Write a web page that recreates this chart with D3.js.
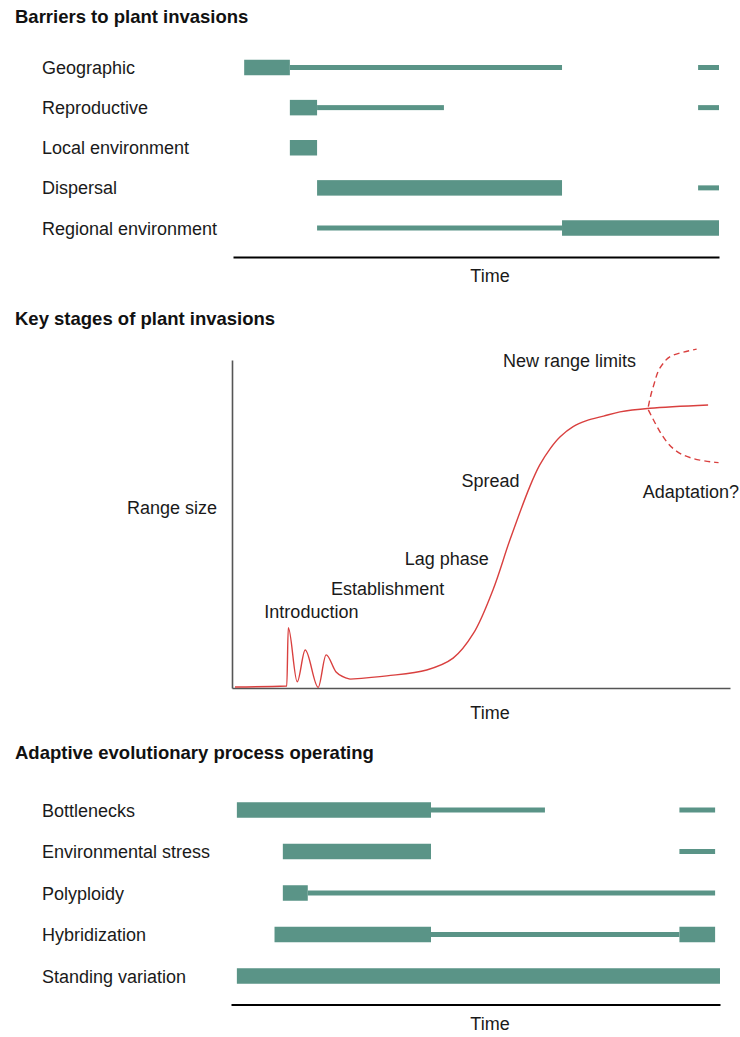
<!DOCTYPE html>
<html>
<head>
<meta charset="utf-8">
<script src="https://cdn.jsdelivr.net/npm/d3@7"></script>
<style>
  html, body { margin: 0; padding: 0; background: #fff; }
  svg { display: block; }
  text { font-family: "Liberation Sans", Arial, Helvetica, sans-serif; fill: #1a1a1a; }
</style>
</head>
<body>
<svg id="chart" width="740" height="1037"></svg>
<script>
// ---------- DATA ----------
const panelTitles = ["Barriers to plant invasions", "Key stages of plant invasions", "Adaptive evolutionary process operating"];
const axisLabel = "Time";
const yLabel = "Range size";

// Panel 1: barriers (time units 0-100)
const barrierCategories = ["Geographic", "Reproductive", "Local environment", "Dispersal", "Regional environment"];
const barrierStrong = [
  ["Geographic", 2.3, 11.7],
  ["Reproductive", 11.7, 17.3],
  ["Local environment", 11.7, 17.3],
  ["Dispersal", 17.3, 67.7],
  ["Regional environment", 67.7, 100]
];
const barrierWeak = [
  ["Geographic", 11.7, 67.7],
  ["Geographic", 95.7, 100],
  ["Reproductive", 17.3, 43.4],
  ["Reproductive", 95.7, 100],
  ["Dispersal", 95.7, 100],
  ["Regional environment", 17.3, 67.7]
];

// Panel 2: range size curve (time 0-100, range size 0-100)
// introduction oscillations
const introTime  = [0.6, 11.0, 11.3, 13.1, 14.7, 17.3, 18.9, 20.9, 23.7];
const introRange = [0.3, 0.6, 18.4, 1.9, 11.6, 0.2, 10.1, 4.9, 2.7];
// lag, spread and saturation
const growthTime  = [23.7, 31.1, 39.1, 44.4, 48.5, 52.4, 55.8, 59.8, 61.8, 63.9, 65.9, 68.5, 71.2, 74.6, 77.9, 83.9, 95.6];
const growthRange = [2.7, 3.7, 5.5, 9.1, 16.7, 29.9, 45.1, 61.4, 68.0, 73.0, 76.6, 79.7, 81.5, 82.9, 84.2, 85.3, 86.3];
const upperTime  = [83.6, 84.6, 86.6, 88.6, 93.3];
const upperRange = [85.8, 91.9, 99.0, 101.5, 103.3];
const lowerTime  = [83.6, 85.3, 87.3, 90.0, 94.0, 97.7];
const lowerRange = [84.8, 79.7, 74.6, 71.0, 69.3, 68.7];
const stageNames = ["New range limits", "Spread", "Lag phase", "Establishment", "Introduction", "Adaptation?"];
const stageTime  = [54.4, 46.1, 34.7, 19.9, 6.5, 82.5];
const stageRange = [98.0, 61.4, 37.5, 28.4, 21.3, 57.8];

// Panel 3: adaptive processes
const processCategories = ["Bottlenecks", "Environmental stress", "Polyploidy", "Hybridization", "Standing variation"];
const processStrong = [
  ["Bottlenecks", 1.2, 40.9],
  ["Environmental stress", 10.6, 40.9],
  ["Polyploidy", 10.6, 15.7],
  ["Hybridization", 8.9, 40.9],
  ["Hybridization", 91.7, 99.0],
  ["Standing variation", 1.2, 100]
];
const processWeak = [
  ["Bottlenecks", 40.9, 64.2],
  ["Bottlenecks", 91.7, 99.0],
  ["Environmental stress", 91.7, 99.0],
  ["Polyploidy", 15.7, 99.0],
  ["Hybridization", 40.9, 91.7]
];

// ---------- STYLE ----------
const barColor = "#5a9487";
const curveColor = "#d9403f";
const strongH = 15.5, weakH = 5;
const fontSize = 18;

const svg = d3.select("#chart");

// Titles
const titleY = [23, 325, 759];
svg.selectAll("text.title").data(panelTitles).join("text")
  .attr("class", "title")
  .attr("x", 15).attr("y", (d, i) => titleY[i])
  .attr("font-size", 18.5).attr("font-weight", "bold")
  .style("fill", "#111")
  .text(d => d);

// Gantt-like panel
function drawBars(cats, strong, weak, xRange, yRange, axisY, timeY) {
  const g = svg.append("g");
  const x = d3.scaleLinear().domain([0, 100]).range(xRange);
  const y = d3.scalePoint().domain(cats).range(yRange);

  g.selectAll("text.cat").data(cats).join("text")
    .attr("class", "cat")
    .attr("x", 42).attr("y", d => y(d) + 6.5)
    .attr("font-size", fontSize)
    .text(d => d);

  g.selectAll("rect.weak").data(weak).join("rect")
    .attr("class", "weak")
    .attr("x", d => x(d[1])).attr("width", d => x(d[2]) - x(d[1]))
    .attr("y", d => y(d[0]) - weakH / 2).attr("height", weakH)
    .attr("fill", barColor);

  g.selectAll("rect.strong").data(strong).join("rect")
    .attr("class", "strong")
    .attr("x", d => x(d[1])).attr("width", d => x(d[2]) - x(d[1]))
    .attr("y", d => y(d[0]) - strongH / 2).attr("height", strongH)
    .attr("fill", barColor);

  const ax = g.append("g")
    .attr("transform", `translate(0,${axisY})`)
    .call(d3.axisBottom(x).tickValues([]).tickSizeOuter(0));
  ax.select(".domain").attr("stroke", "#000").attr("stroke-width", 2.2);

  g.append("text")
    .attr("x", 490).attr("y", timeY)
    .attr("text-anchor", "middle").attr("font-size", fontSize)
    .text(axisLabel);
}

drawBars(barrierCategories, barrierStrong, barrierWeak, [233, 719], [67.5, 228], 257, 282);
drawBars(processCategories, processStrong, processWeak, [231, 720], [810, 976], 1004.5, 1030);

// Curve panel
(function () {
  const g = svg.append("g");
  const x = d3.scaleLinear().domain([0, 100]).range([232, 730]);
  const y = d3.scaleLinear().domain([0, 100]).range([688, 360]);

  const xa = g.append("g").attr("transform", "translate(0,688)")
    .call(d3.axisBottom(x).tickValues([]).tickSizeOuter(0));
  xa.select(".domain").attr("stroke", "#555").attr("stroke-width", 1.6);
  const ya = g.append("g").attr("transform", "translate(232,0)")
    .call(d3.axisLeft(y).tickValues([]).tickSizeOuter(0));
  ya.select(".domain").attr("stroke", "#555").attr("stroke-width", 1.6);

  const mk = c => d3.line().x(d => x(d[0])).y(d => y(d[1])).curve(c);
  const stroke = sel => sel.attr("fill", "none").attr("stroke", curveColor).attr("stroke-width", 1.4);

  g.append("path").attr("d", mk(d3.curveMonotoneX)(d3.zip(introTime, introRange))).call(stroke);
  g.append("path").attr("d", mk(d3.curveCatmullRom.alpha(0.5))(d3.zip(growthTime, growthRange))).call(stroke);
  g.append("path").attr("d", mk(d3.curveMonotoneY)(d3.zip(upperTime, upperRange))).call(stroke)
    .attr("stroke-dasharray", "6,4");
  g.append("path").attr("d", mk(d3.curveBasis)(d3.zip(lowerTime, lowerRange))).call(stroke)
    .attr("stroke-dasharray", "6,4");

  g.selectAll("text.stage").data(stageNames).join("text")
    .attr("class", "stage")
    .attr("x", (d, i) => x(stageTime[i])).attr("y", (d, i) => y(stageRange[i]))
    .attr("font-size", fontSize)
    .text(d => d);

  g.append("text").attr("x", 127).attr("y", 514).attr("font-size", fontSize).text(yLabel);
  g.append("text").attr("x", 490).attr("y", 719).attr("text-anchor", "middle")
    .attr("font-size", fontSize).text(axisLabel);
})();
</script>
</body>
</html>
